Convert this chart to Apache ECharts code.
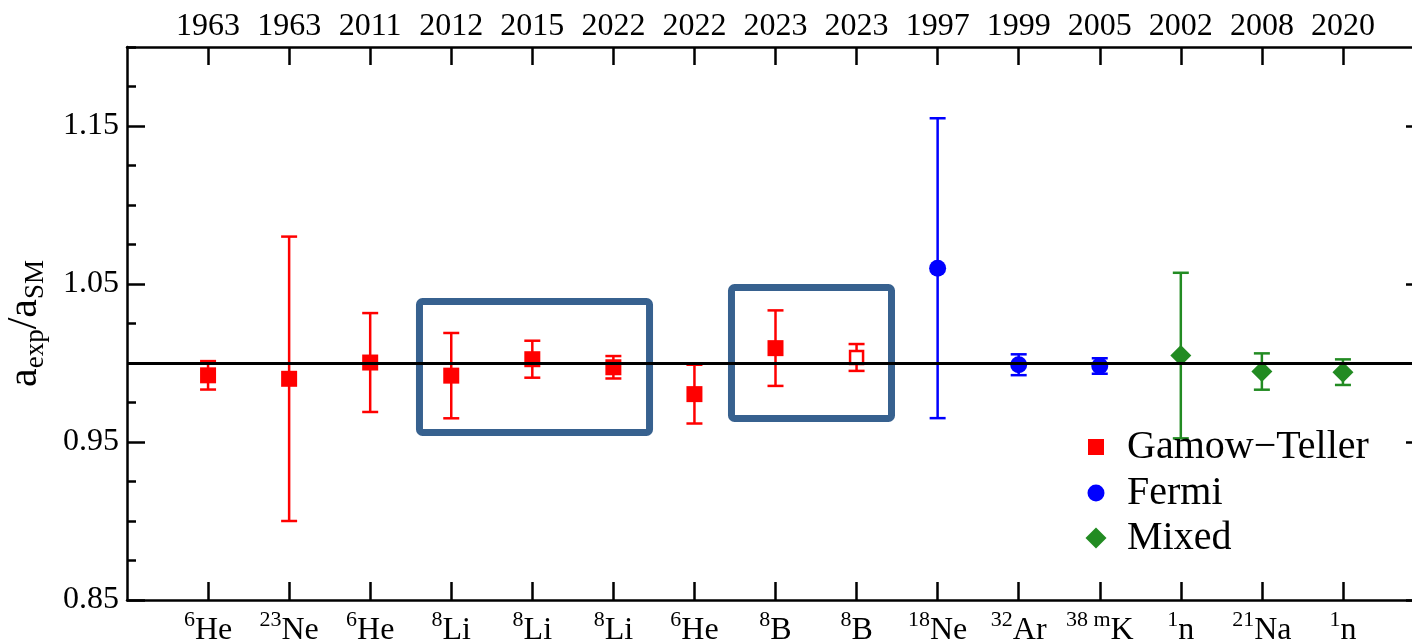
<!DOCTYPE html>
<html><head><meta charset="utf-8">
<script src="https://cdn.jsdelivr.net/npm/echarts@6/dist/echarts.min.js"></script>
<style>html,body{margin:0;padding:0;background:#fff}#c{width:1412px;height:643px}</style>
</head><body><div id="c"></div>
<script>
// ---- data ----
const massNumbers = ['6','23','6','8','8','8','6','8','8','18','32','38 m','1','21','1'];
const elements    = ['He','Ne','He','Li','Li','Li','He','B','B','Ne','Ar','K','n','Na','n'];
const years       = ['1963','1963','2011','2012','2015','2022','2022','2023','2023','1997','1999','2005','2002','2008','2020'];
const ratios      = [0.9922, 0.990, 1.0003, 0.992, 1.0024, 0.9973, 0.9803, 1.0094, 1.0035, 1.060, 0.9989, 0.9981, 1.0047, 0.9946, 0.9942];
const errors      = [0.0090, 0.090, 0.0313, 0.027, 0.0117, 0.0071, 0.0186, 0.0239, 0.0085, 0.0949, 0.0066, 0.0049, 0.0524, 0.0115, 0.0081];
const decayTypes  = ['Gamow−Teller','Gamow−Teller','Gamow−Teller','Gamow−Teller','Gamow−Teller','Gamow−Teller','Gamow−Teller','Gamow−Teller','Gamow−Teller','Fermi','Fermi','Fermi','Mixed','Mixed','Mixed'];
const openMarker  = [false,false,false,false,false,false,false,false,true,false,false,false,false,false,false];
const seriesNames = ['Gamow−Teller','Fermi','Mixed'];
// highlight boxes: [xFrom, xTo, yFrom, yTo]
const boxes = [[3.608, 6.446, 0.956, 1.0389], [7.457, 9.431, 0.9649, 1.0478]];
const yMajorTicks = [0.85, 0.95, 1.05, 1.15];
const referenceValue = 1.0;

// ---- styles ----
const FONT = "'Liberation Serif', 'Times New Roman', Times, serif";
const colors = {'Gamow−Teller':'#ff0000','Fermi':'#0000ff','Mixed':'#228b22'};
const symbols = {'Gamow−Teller':'rect','Fermi':'circle','Mixed':'diamond'};
const sizes = {'Gamow−Teller':16,'Fermi':17,'Mixed':21};
const boxColor = '#37618f';
const positions = years.map((_, i) => i + 1);

const chart = echarts.init(document.getElementById('c'), null, {renderer:'canvas'});

const axisLineStyle = {color:'#000', width:2.5};
function xAxisDef(pos, formatter, rich, margin) {
  return {
    type:'value', position:pos, min:0, max:16, interval:1,
    splitLine:{show:false},
    axisLine:{show:true, onZero:false, lineStyle:axisLineStyle},
    axisTick:{show:true, inside:true, length:18, customValues:positions, lineStyle:axisLineStyle},
    axisLabel:{show:true, customValues:positions, formatter:formatter, rich:rich, margin:margin,
      fontFamily:FONT, fontSize:32, color:'#000', hideOverlap:false}
  };
}
function yAxisDef(pos, major, showLabel) {
  const a = {
    type:'value', position:pos, min:0.85, max:1.2, interval:0.025,
    splitLine:{show:false},
    axisLine:{show:!major, onZero:false, lineStyle:axisLineStyle},
    axisTick:{show:true, inside:true, length: major ? 18 : 9, lineStyle:axisLineStyle},
    axisLabel:{show:false}
  };
  if (major) a.axisTick.customValues = yMajorTicks;
  if (showLabel) {
    a.axisLabel = {show:true, customValues:yMajorTicks, formatter:v => v.toFixed(2), margin:8,
      fontFamily:FONT, fontSize:32, color:'#000'};
    a.name = '{a|a}{sub|exp}{a|/a}{sub|SM}';
    a.nameLocation = 'middle';
    a.nameGap = 78;
    a.nameTextStyle = {fontFamily:FONT, color:'#000', rich:{
      a:{fontFamily:FONT, fontSize:42, lineHeight:48, color:'#000'},
      sub:{fontFamily:FONT, fontSize:27, lineHeight:27, verticalAlign:'bottom', color:'#000'}
    }};
  }
  return a;
}

const errData = positions.map((x, i) => [x, ratios[i], errors[i], seriesNames.indexOf(decayTypes[i])]);

const series = [
  {
    type:'line', name:'ref', data:[], z:1, silent:true,
    markLine:{silent:true, symbol:['none','none'], label:{show:false},
      lineStyle:{color:'#000', width:3, type:'solid'}, data:[{yAxis:referenceValue}]}
  },
  {
    type:'custom', name:'boxes', z:2, silent:true, clip:false,
    data:boxes, encode:{x:[0,1], y:[2,3]},
    renderItem(params, api) {
      const p0 = api.coord([api.value(0), api.value(3)]);
      const p1 = api.coord([api.value(1), api.value(2)]);
      return {type:'rect', shape:{x:p0[0], y:p0[1], width:p1[0]-p0[0], height:p1[1]-p0[1], r:3},
        style:{fill:'none', stroke:boxColor, lineWidth:7}};
    }
  },
  {
    type:'custom', name:'errors', z:3, silent:true,
    data:errData, encode:{x:0, y:1},
    renderItem(params, api) {
      const x = api.value(0), y = api.value(1), e = api.value(2);
      const c = colors[seriesNames[api.value(3)]];
      const t = api.coord([x, y + e]), b = api.coord([x, y - e]);
      const hw = 8, lw = 2.5;
      return {type:'group', children:[
        {type:'line', shape:{x1:t[0], y1:t[1], x2:b[0], y2:b[1]}, style:{stroke:c, lineWidth:lw}},
        {type:'line', shape:{x1:t[0]-hw, y1:t[1], x2:t[0]+hw, y2:t[1]}, style:{stroke:c, lineWidth:lw}},
        {type:'line', shape:{x1:b[0]-hw, y1:b[1], x2:b[0]+hw, y2:b[1]}, style:{stroke:c, lineWidth:lw}}
      ]};
    }
  }
];
seriesNames.forEach(name => {
  const data = [];
  positions.forEach((x, i) => {
    if (decayTypes[i] !== name) return;
    if (openMarker[i]) {
      data.push({value:[x, ratios[i]], symbolSize:13,
        itemStyle:{color:'#ffffff', borderColor:colors[name], borderWidth:2.5}});
    } else {
      data.push([x, ratios[i]]);
    }
  });
  series.push({type:'scatter', name:name, z:4, data:data, symbol:symbols[name],
    symbolSize:sizes[name], itemStyle:{color:colors[name], opacity:1}});
});

const legendCenters = {'Gamow−Teller':447, 'Fermi':493, 'Mixed':538};
const legends = seriesNames.map(name => {
  const w = sizes[name];
  return {
    data:[{name:name, icon:symbols[name]}], orient:'vertical', selectedMode:false,
    left:1096 - w/2, top:legendCenters[name] - 22, padding:0,
    itemWidth:w, itemHeight:w,
    textStyle:{fontFamily:FONT, fontSize:40, lineHeight:44, color:'#000', padding:[0,0,0,1127 - (1096 - w/2) - w - 5]}
  };
});

chart.setOption({
  animation:false,
  backgroundColor:'#fff',
  grid:{left:127, top:47, width:1297, height:553, containLabel:false, outerBoundsMode:'none'},
  legend:legends,
  xAxis:[
    xAxisDef('bottom', v => '{sup|' + massNumbers[v-1] + '}{main|' + elements[v-1] + '}', {
      sup:{fontFamily:FONT, fontSize:22, lineHeight:22, verticalAlign:'top', color:'#000'},
      main:{fontFamily:FONT, fontSize:32, lineHeight:44, color:'#000'}
    }, 9),
    xAxisDef('top', v => years[v-1], null, 4)
  ],
  yAxis:[
    yAxisDef('left', false, true),
    yAxisDef('left', true, false),
    yAxisDef('right', false, false),
    yAxisDef('right', true, false)
  ],
  series:series
});
</script></body></html>
